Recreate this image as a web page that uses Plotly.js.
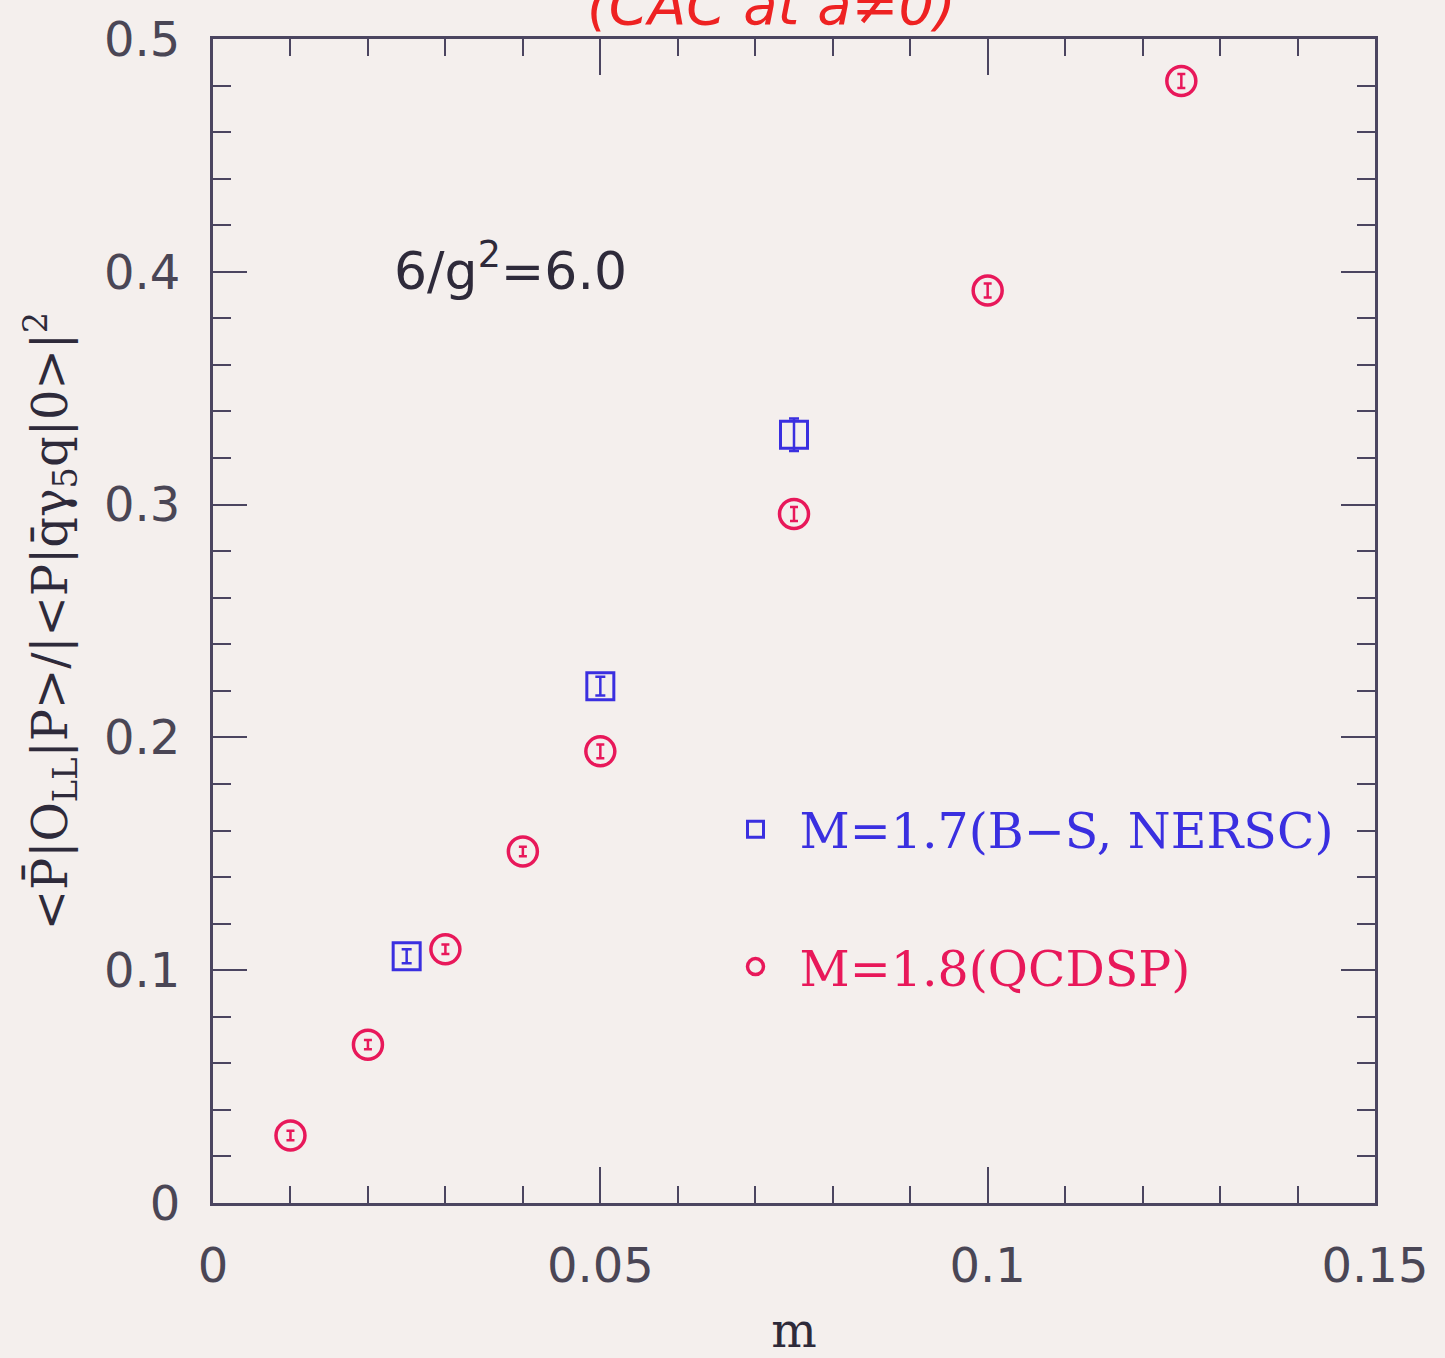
<!DOCTYPE html>
<html>
<head>
<meta charset="utf-8">
<script src="https://cdn.plot.ly/plotly-3.0.1.min.js"></script>
<style>body{margin:0;padding:0;background:#f4efed;}</style>
</head>
<body>
<div id="chart" style="width:1445px;height:1358px;"></div>
<script>
// QCDSP, M=1.8 (red circles)
const mRed = [0.01, 0.02, 0.03, 0.04, 0.05, 0.075, 0.10, 0.125];
const valRed = [0.029, 0.068, 0.109, 0.151, 0.194, 0.296, 0.392, 0.482];
const errRed = [0.002, 0.002, 0.002, 0.002, 0.003, 0.003, 0.003, 0.003];
// B-S NERSC, M=1.7 (blue squares)
const mBlue = [0.025, 0.05, 0.075];
const valBlue = [0.106, 0.222, 0.330];
const errBlue = [0.003, 0.004, 0.007];

const xTickVals = [0, 0.05, 0.1, 0.15];
const xTickText = ['0', '0.05', '0.1', '0.15'];
const yTickVals = [0, 0.1, 0.2, 0.3, 0.4, 0.5];
const yTickText = ['0', '0.1', '0.2', '0.3', '0.4', '0.5'];

const nameBlue = 'M=1.7(B\u2212S, NERSC)';
const nameRed = 'M=1.8(QCDSP)';

const blue = '#3a2fe0';
const red = '#e8185a';
const axisColor = '#4b4560';
const bg = '#f4efed';
const serif = 'DejaVu Serif, serif';

const traces = [
  {
    x: mBlue, y: valBlue, type: 'scatter', mode: 'markers',
    name: '<span style="color:' + blue + '">' + nameBlue + '</span>',
    legend: 'legend',
    marker: {symbol: 'square-open', size: 27, color: blue, line: {width: 3, color: blue}},
    error_y: {type: 'data', array: errBlue, visible: true, color: blue, thickness: 2.5, width: 5}
  },
  {
    x: mRed, y: valRed, type: 'scatter', mode: 'markers',
    name: '<span style="color:' + red + '">' + nameRed + '</span>',
    legend: 'legend2',
    marker: {symbol: 'circle-open', size: 29, color: red, line: {width: 3.5, color: red}},
    error_y: {type: 'data', array: errRed, visible: true, color: red, thickness: 2.5, width: 4}
  }
];

const layout = {
  width: 1445, height: 1358,
  margin: {l: 213, r: 70, t: 39, b: 155},
  paper_bgcolor: bg, plot_bgcolor: bg,
  showlegend: true,
  legend: {
    x: 0.429, y: 0.321, xanchor: 'left', yanchor: 'middle',
    bgcolor: 'rgba(0,0,0,0)', borderwidth: 0, itemwidth: 78,
    font: {family: serif, size: 49, color: blue},
    itemsizing: 'trace'
  },
  legend2: {
    x: 0.429, y: 0.203, xanchor: 'left', yanchor: 'middle',
    bgcolor: 'rgba(0,0,0,0)', borderwidth: 0, itemwidth: 78,
    font: {family: serif, size: 49, color: red},
    itemsizing: 'trace'
  },
  xaxis: {
    range: [0, 0.15], tickmode: 'array', tickvals: xTickVals, ticktext: xTickText,
    ticks: 'inside', ticklen: 36, tickwidth: 2, tickcolor: axisColor,
    minor: {tickmode: 'linear', tick0: 0, dtick: 0.01, ticks: 'inside', ticklen: 17, tickwidth: 2, tickcolor: axisColor},
    showline: true, linewidth: 3, linecolor: axisColor, mirror: 'allticks',
    showgrid: false, zeroline: false,
    ticklabelstandoff: 18,
    tickfont: {family: 'DejaVu Sans, sans-serif', size: 48, color: '#4a4655'},
    title: {text: 'm', standoff: 22, font: {family: serif, size: 48, color: '#2e2a3a'}}
  },
  yaxis: {
    range: [0, 0.5], tickmode: 'array', tickvals: yTickVals, ticktext: yTickText,
    ticks: 'inside', ticklen: 34, tickwidth: 2, tickcolor: axisColor,
    minor: {tickmode: 'linear', tick0: 0, dtick: 0.02, ticks: 'inside', ticklen: 18, tickwidth: 2, tickcolor: axisColor},
    showline: true, linewidth: 3, linecolor: axisColor, mirror: 'allticks',
    showgrid: false, zeroline: false,
    ticklabelstandoff: 20,
    tickfont: {family: 'DejaVu Sans, sans-serif', size: 48, color: '#4a4655'},
    title: {
      text: '&lt;P\u0304|O<sub>LL</sub>|P&gt;/|&lt;P|q\u0304\u03b3<sub>5</sub>q|0&gt;|<sup>2</sup>',
      standoff: 22,
      font: {family: serif, size: 48, color: '#2e2a3a'}
    }
  },
  annotations: [
    {
      xref: 'x', yref: 'y', x: 0.0384, y: 0.402, xanchor: 'center', yanchor: 'middle',
      text: '6/g<sup>2</sup>=6.0', showarrow: false,
      font: {family: 'DejaVu Sans, sans-serif', size: 52, color: '#2e2a3a'}
    },
    {
      xref: 'paper', yref: 'paper', x: 0.481, y: 1.03, xanchor: 'center', yanchor: 'middle',
      text: '<i>(CAC at a\u22600)</i>', showarrow: false,
      font: {family: 'DejaVu Sans, sans-serif', size: 56, color: '#ee2222'}
    }
  ]
};

Plotly.newPlot('chart', traces, layout, {displayModeBar: false, responsive: false});
</script>
</body>
</html>
